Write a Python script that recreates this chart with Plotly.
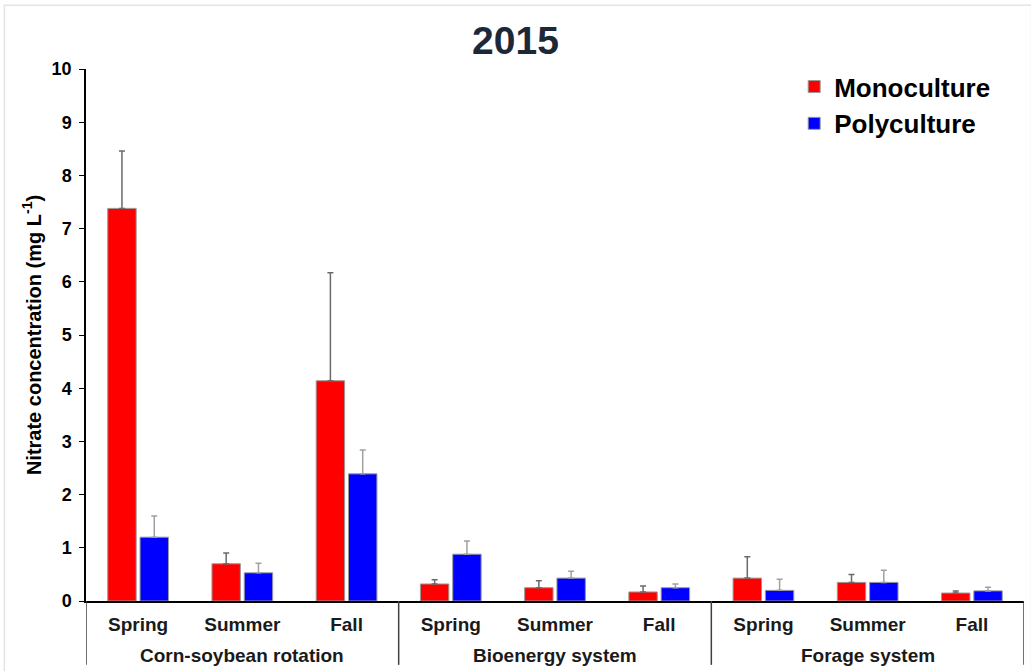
import plotly.graph_objects as go

systems = ["Corn-soybean rotation", "Bioenergy system", "Forage system"]
seasons = ["Spring", "Summer", "Fall"]
categories = [f"{s} | {x}" for s in systems for x in seasons]
tick_labels = seasons * 3

mono = [7.38, 0.70, 4.14, 0.32, 0.25, 0.17, 0.43, 0.35, 0.15]
mono_err = [1.08, 0.20, 2.03, 0.08, 0.13, 0.11, 0.40, 0.15, 0.04]
poly = [1.20, 0.53, 2.39, 0.88, 0.43, 0.25, 0.20, 0.35, 0.19]
poly_err = [0.40, 0.18, 0.45, 0.25, 0.13, 0.07, 0.21, 0.23, 0.07]

FONT = "Liberation Sans, Arial, sans-serif"

fig = go.Figure()
fig.add_trace(go.Bar(
    x=categories, y=mono, name="Monoculture",
    marker=dict(color="#FF0000", line=dict(color="#9a9a9a", width=1)),
    error_y=dict(type="data", array=mono_err, arrayminus=[0] * 9, symmetric=False,
                 color="#6a6a6a", thickness=1.5, width=3),
))
fig.add_trace(go.Bar(
    x=categories, y=poly, name="Polyculture",
    marker=dict(color="#0000FF", line=dict(color="#9a9a9a", width=1)),
    error_y=dict(type="data", array=poly_err, arrayminus=[0] * 9, symmetric=False,
                 color="#a0a0a0", thickness=1.5, width=3),
))

fig.update_layout(
    width=1031, height=671,
    margin=dict(l=86, r=7, t=69, b=70),
    paper_bgcolor="white", plot_bgcolor="white",
    barmode="group", bargap=0.38, bargroupgap=0.12,
    font=dict(family=FONT, color="black"),
    title=dict(text="2015", x=0.5, xanchor="center", y=0.94, yanchor="middle",
               font=dict(family=FONT, size=39, weight="bold", color="#1c2838")),
    legend=dict(x=0.755, y=1.011, xanchor="left", yanchor="top",
                font=dict(family=FONT, size=26, weight="bold"),
                bgcolor="rgba(0,0,0,0)", itemclick=False),
    xaxis=dict(type="category", showline=True, linecolor="black", linewidth=1.5,
               tickmode="array", tickvals=categories, ticktext=tick_labels,
               ticks="", ticklabelstandoff=5,
               tickfont=dict(family=FONT, size=19, weight="bold", color="#1a1a1a"),
               showgrid=False, zeroline=False, range=[-0.5, 8.5]),
    yaxis=dict(range=[0, 10], dtick=1, showline=True, linecolor="black", linewidth=1.5,
               ticks="outside", ticklen=5, tickcolor="black", ticklabelstandoff=4,
               tickfont=dict(family=FONT, size=18, weight="bold"),
               showgrid=False, zeroline=False,
               title=dict(text="Nitrate concentration (mg L<sup>-1</sup>)", standoff=5,
                          font=dict(family=FONT, size=20, weight="bold"))),
)

# group labels and dividers below the axis
for gi, name in enumerate(systems):
    fig.add_annotation(x=gi * 3 + 1, xref="x", y=-0.102, yref="paper",
                       text=name, showarrow=False, yanchor="middle",
                       font=dict(family=FONT, size=19, weight="bold", color="#1a1a1a"))
for b in [-0.5, 2.5, 5.5, 8.5]:
    fig.add_shape(type="line", xref="x", yref="paper", x0=b, x1=b, y0=0, y1=-0.12,
                  line=dict(color="#404040", width=1.5))

fig.add_shape(type="rect", xref="paper", yref="paper", x0=-0.087, x1=1.008, y0=-0.14, y1=1.12,
              line=dict(color="#e4e4e4", width=1.5), layer="below")

fig.write_html("out.html")
